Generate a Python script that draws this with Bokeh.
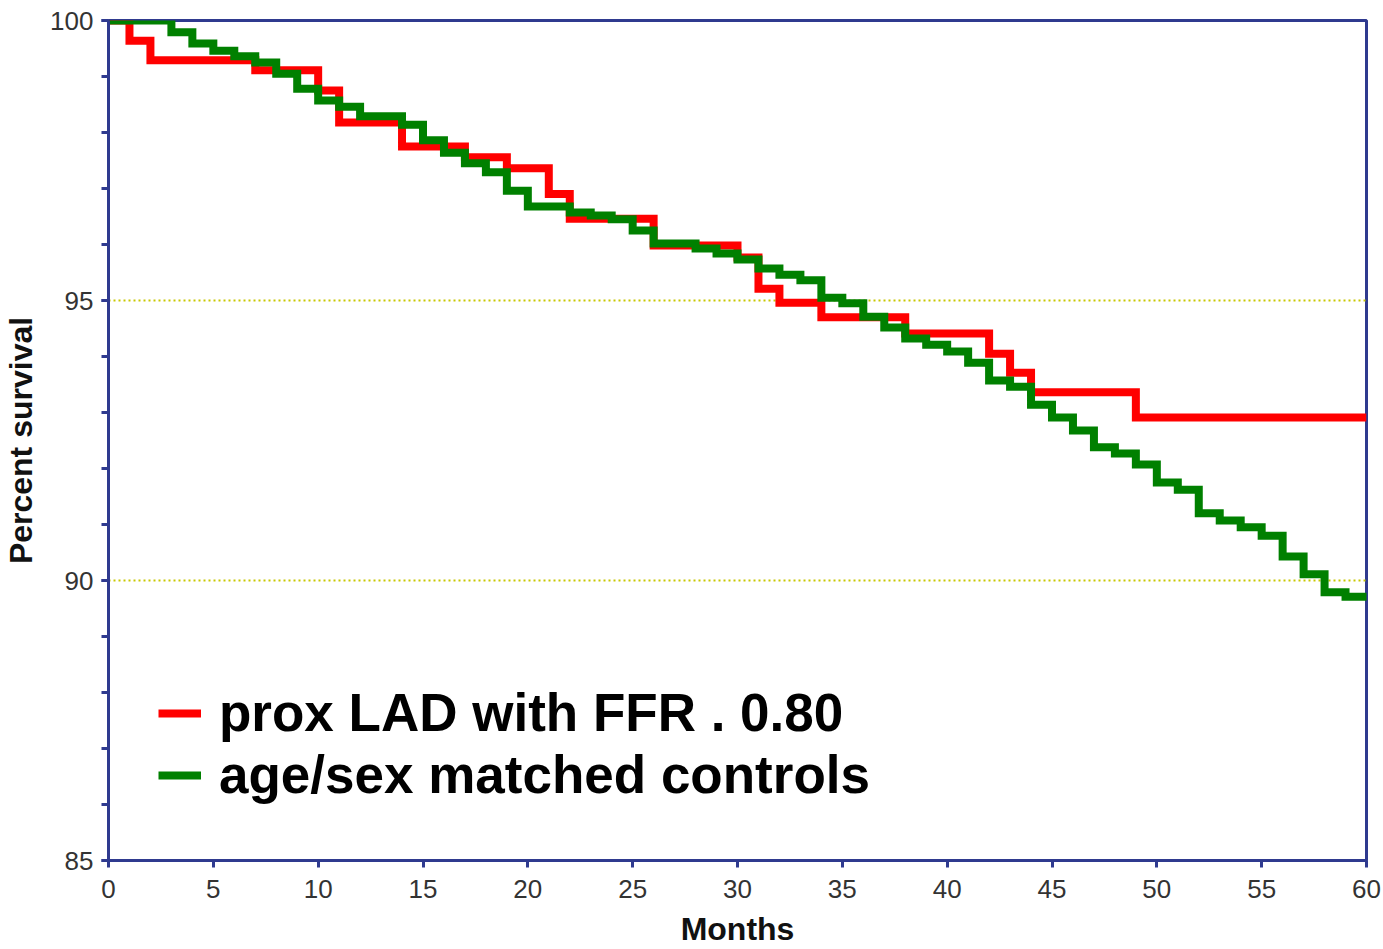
from bokeh.plotting import figure
from bokeh.models import Range1d, SingleIntervalTicker, Legend, LegendItem
from bokeh.embed import file_html
from bokeh.resources import INLINE

# Kaplan-Meier style survival curves (months, percent survival after each step)
lad_months = [0, 1, 2, 7, 10, 11, 14, 17, 19, 21, 22, 26, 30, 31, 32, 34, 38, 42, 43, 44, 49, 60]
lad_surv = [100, 99.64, 99.29, 99.11, 98.75, 98.18, 97.75, 97.56, 97.36, 96.90, 96.46, 95.98,
            95.77, 95.21, 94.96, 94.70, 94.41, 94.05, 93.71, 93.36, 92.91, 92.91]

ctrl_months = [0, 3, 4, 5, 6, 7, 8, 9, 10, 11, 12, 14, 15, 16, 17, 18, 19, 20, 22, 23, 24, 25,
               26, 28, 29, 30, 31, 32, 33, 34, 35, 36, 37, 38, 39, 40, 41, 42, 43, 44, 45, 46,
               47, 48, 49, 50, 51, 52, 53, 54, 55, 56, 57, 58, 59, 60]
ctrl_surv = [100, 99.79, 99.59, 99.46, 99.36, 99.25, 99.05, 98.78, 98.57, 98.46, 98.29, 98.14,
             97.86, 97.64, 97.45, 97.29, 96.96, 96.68, 96.57, 96.52, 96.45, 96.25, 96.02, 95.93,
             95.84, 95.73, 95.57, 95.46, 95.36, 95.05, 94.95, 94.71, 94.52, 94.32, 94.21, 94.09,
             93.89, 93.57, 93.46, 93.14, 92.91, 92.68, 92.38, 92.27, 92.07, 91.75, 91.62, 91.20,
             91.07, 90.95, 90.80, 90.43, 90.11, 89.79, 89.71, 89.64]

series_labels = ["prox LAD with FFR . 0.80", "age/sex matched controls"]
x_title = "Months"
y_title = "Percent survival"

NAVY = "#2f3a8f"
FONT = "Liberation Sans"

p = figure(width=1383, height=949, x_range=Range1d(0, 60), y_range=Range1d(85, 100),
           output_backend="svg", toolbar_location=None,
           min_border_left=107, min_border_top=20, min_border_right=17, min_border_bottom=89)
p.background_fill_color = "white"
p.border_fill_color = "white"
p.outline_line_color = NAVY
p.outline_line_width = 3

p.xaxis.ticker = SingleIntervalTicker(interval=5, num_minor_ticks=0)
p.yaxis.ticker = SingleIntervalTicker(interval=5, num_minor_ticks=5)

for ax in (p.xaxis, p.yaxis):
    ax.axis_line_color = NAVY
    ax.axis_line_width = 3
    ax.major_tick_line_color = NAVY
    ax.major_tick_line_width = 3
    ax.major_tick_out = 7
    ax.major_tick_in = 0
    ax.minor_tick_line_color = NAVY
    ax.minor_tick_line_width = 3
    ax.minor_tick_out = 7
    ax.minor_tick_in = 0
    ax.major_label_text_font = FONT
    ax.major_label_text_font_size = "26px"
    ax.major_label_text_color = "#333333"
    ax.axis_label_text_font = FONT
    ax.axis_label_text_font_size = "32px"
    ax.axis_label_text_font_style = "bold"
    ax.axis_label_text_color = "#111111"

p.xaxis.axis_label = x_title
p.yaxis.axis_label = y_title
p.xaxis.major_label_standoff = 12
p.xaxis.axis_label_standoff = 10
p.yaxis.major_label_standoff = 8
p.yaxis.axis_label_standoff = 8

p.xgrid.grid_line_color = None
p.ygrid.grid_line_color = "#c8c800"
p.ygrid.grid_line_width = 2
p.ygrid.grid_line_dash = "2 3"

r_lad = p.step(lad_months, lad_surv, mode="after", line_color="#ff0000", line_width=8,
               line_join="miter")
r_ctrl = p.step(ctrl_months, ctrl_surv, mode="after", line_color="#008000", line_width=8,
                line_join="miter")

legend = Legend(items=[LegendItem(label=series_labels[0], renderers=[r_lad]),
                       LegendItem(label=series_labels[1], renderers=[r_ctrl])],
                location=(50, 55), orientation="vertical",
                label_text_font=FONT, label_text_font_size="53px",
                label_text_font_style="bold", label_text_color="black",
                glyph_width=43, glyph_height=20, label_standoff=18,
                spacing=1, padding=0, margin=0,
                border_line_color=None, background_fill_alpha=0)
p.add_layout(legend, "center")

open("out.html", "w").write(file_html(p, INLINE))
